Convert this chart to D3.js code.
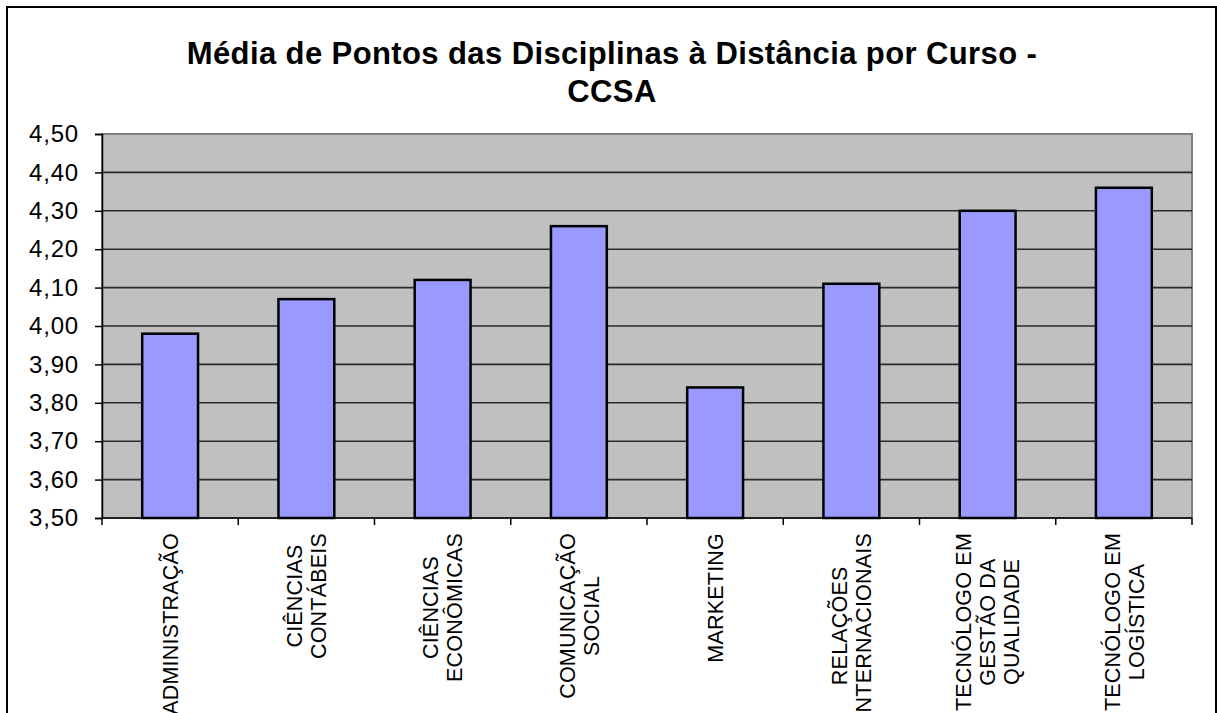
<!DOCTYPE html>
<html>
<head>
<meta charset="utf-8">
<script src="https://cdn.jsdelivr.net/npm/d3@7"></script>
<style>
  body { margin: 0; background: #fff; }
  svg { display: block; font-family: "Liberation Sans", Arial, sans-serif; }
</style>
</head>
<body>
<svg id="chart"></svg>
<script>
// chart data
const titleLines = ["Média de Pontos das Disciplinas à Distância por Curso -", "CCSA"];
const categories = [
  ["ADMINISTRAÇÃO"],
  ["CIÊNCIAS", "CONTÁBEIS"],
  ["CIÊNCIAS", "ECONÔMICAS"],
  ["COMUNICAÇÃO", "SOCIAL"],
  ["MARKETING"],
  ["RELAÇÕES", "INTERNACIONAIS"],
  ["TECNÓLOGO EM", "GESTÃO DA", "QUALIDADE"],
  ["TECNÓLOGO EM", "LOGÍSTICA"]
];
const values = [3.98, 4.07, 4.12, 4.26, 3.84, 4.11, 4.30, 4.36];
const yTicks = [3.5, 3.6, 3.7, 3.8, 3.9, 4.0, 4.1, 4.2, 4.3, 4.4, 4.5];

const W = 1217, H = 713;
const plot = { left: 102, right: 1192, top: 134, bottom: 518 };

const svg = d3.select('#chart')
  .attr('width', W)
  .attr('height', H);

// outer frame (bottom edge is cut off in the reference)
svg.append('rect')
  .attr('x', 7).attr('y', 7)
  .attr('width', 1209).attr('height', H + 20)
  .attr('fill', '#fff')
  .attr('stroke', '#000')
  .attr('stroke-width', 2);

// title
svg.append('text')
  .attr('text-anchor', 'middle')
  .attr('font-weight', 'bold')
  .attr('font-size', 31)
  .attr('letter-spacing', 0.4)
  .selectAll('tspan')
  .data(titleLines)
  .join('tspan')
    .attr('x', 612)
    .attr('y', (d, i) => 64 + i * 38)
    .text(d => d);

// scales
const x = d3.scaleBand()
  .domain(d3.range(categories.length))
  .range([plot.left, plot.right])
  .paddingInner(0.59)
  .paddingOuter(0.295);

const y = d3.scaleLinear()
  .domain([3.5, 4.5])
  .range([plot.bottom, plot.top]);

const ptBR = d3.formatLocale({ decimal: ',', thousands: '.', grouping: [3], currency: ['R$', ''] });
const fmt = ptBR.format('.2f');

// plot background
svg.append('rect')
  .attr('x', plot.left).attr('y', plot.top)
  .attr('width', plot.right - plot.left)
  .attr('height', plot.bottom - plot.top)
  .attr('fill', '#c0c0c0')
  .attr('stroke', '#808080')
  .attr('stroke-width', 2);

// gridlines
svg.append('g')
  .selectAll('line')
  .data(yTicks.slice(1, -1))
  .join('line')
    .attr('x1', plot.left).attr('x2', plot.right)
    .attr('y1', d => y(d)).attr('y2', d => y(d))
    .attr('stroke', '#2a2a2a')
    .attr('stroke-width', 1.6);

// bars
svg.append('g')
  .selectAll('rect')
  .data(values)
  .join('rect')
    .attr('x', (d, i) => x(i))
    .attr('y', d => y(d))
    .attr('width', x.bandwidth())
    .attr('height', d => y(3.5) - y(d))
    .attr('fill', '#9999ff')
    .attr('stroke', '#000')
    .attr('stroke-width', 2.5);

// y axis
const yAxis = d3.axisLeft(y)
  .tickValues(yTicks)
  .tickFormat(fmt)
  .tickSize(7)
  .tickPadding(16);

const gy = svg.append('g')
  .attr('transform', `translate(${plot.left},0)`)
  .call(yAxis);
gy.select('.domain').attr('stroke', '#000').attr('stroke-width', 1.5);
gy.selectAll('.tick line').attr('stroke', '#000').attr('stroke-width', 1.5);
gy.selectAll('.tick text')
  .attr('font-size', 24)
  .attr('letter-spacing', 0.8)
  .attr('font-family', '"Liberation Sans", Arial, sans-serif')
  .attr('fill', '#000');

// x axis: ticks at category boundaries
const gx = svg.append('g');
gx.append('line')
  .attr('x1', plot.left).attr('x2', plot.right)
  .attr('y1', plot.bottom).attr('y2', plot.bottom)
  .attr('stroke', '#000').attr('stroke-width', 1.5);
gx.selectAll('.tk')
  .data(d3.range(categories.length + 1))
  .join('line')
    .attr('class', 'tk')
    .attr('x1', i => plot.left + i * x.step())
    .attr('x2', i => plot.left + i * x.step())
    .attr('y1', plot.bottom).attr('y2', plot.bottom + 7)
    .attr('stroke', '#000').attr('stroke-width', 1.5);

// rotated category labels, each line centred, block starting just below the axis
const labelTop = 533, lineGap = 24, labelSize = 21.5;
categories.forEach((lines, i) => {
  const cx = x(i) + x.bandwidth() / 2;
  const g = svg.append('g');
  const t = g.append('text')
    .attr('text-anchor', 'middle')
    .attr('font-size', labelSize)
    .attr('letter-spacing', 0.2)
    .attr('fill', '#000');
  const spans = t.selectAll('tspan')
    .data(lines)
    .join('tspan')
      .attr('x', 0)
      .attr('y', (d, j) => (j - (lines.length - 1) / 2) * lineGap + labelSize * 0.36)
      .text(d => d);
  const maxLen = d3.max(spans.nodes(), n => n.getComputedTextLength());
  g.attr('transform', `translate(${cx},${labelTop + maxLen / 2}) rotate(-90)`);
});
</script>
</body>
</html>
